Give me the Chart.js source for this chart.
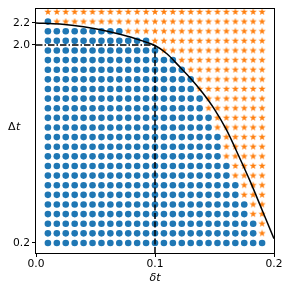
<!DOCTYPE html>
<html>
<head>
<meta charset="utf-8">
<script src="https://cdn.jsdelivr.net/npm/chart.js@4"></script>
<style>
  html, body { margin: 0; padding: 0; background: #fff; }
  #wrap { width: 291px; height: 291px; }
</style>
</head>
<body>
<div id="wrap"><canvas id="stability_chart" width="291" height="291"></canvas></div>
<script>
// grid of tested step sizes
const smallSteps = [0.01, 0.0175, 0.025, 0.0325, 0.04, 0.0475, 0.055, 0.0625, 0.07, 0.0775,
  0.085, 0.0925, 0.1, 0.1075, 0.115, 0.1225, 0.13, 0.1375, 0.145, 0.1525,
  0.16, 0.1675, 0.175, 0.1825, 0.19];
const largeSteps = [0.2, 0.2875, 0.375, 0.4625, 0.55, 0.6375, 0.725, 0.8125, 0.9, 0.9875,
  1.075, 1.1625, 1.25, 1.3375, 1.425, 1.5125, 1.6, 1.6875, 1.775, 1.8625,
  1.95, 2.0375, 2.125, 2.2125, 2.3];
// how many points of each row (from the left) came out stable
const stableCount = [25, 24, 24, 23, 23, 22, 22, 21, 21, 20, 20, 20, 19, 19, 18, 18, 17, 17, 16, 15, 13, 12, 9, 1, 0];

// stability boundary
const boundaryX = [0, 0.02, 0.04, 0.06, 0.08, 0.09, 0.1, 0.11, 0.12, 0.13, 0.14, 0.15, 0.16, 0.17, 0.18, 0.19, 0.2];
const boundaryY = [2.2, 2.19, 2.165, 2.125, 2.07, 2.035, 1.995, 1.92, 1.81, 1.695, 1.565, 1.415, 1.23, 1.0, 0.76, 0.5, 0.24];

const markX = 0.1;
const markY = 2.0;
const xTicks = [0, 0.1, 0.2];
const yTicks = [0.2, 2.0, 2.2];

const stable = [];
const unstable = [];
largeSteps.forEach((y, row) => {
  smallSteps.forEach((x, col) => {
    if (col < stableCount[row]) stable.push({ x, y });
    else unstable.push({ x, y });
  });
});

const makeStar = (size, color) => {
  const c = document.createElement('canvas');
  c.width = size;
  c.height = size;
  const g = c.getContext('2d');
  const r = size / 2 - 0.2;
  const ri = r * 0.4;
  g.beginPath();
  for (let i = 0; i < 10; i++) {
    const a = -Math.PI / 2 + i * Math.PI / 5;
    const rr = i % 2 ? ri : r;
    g.lineTo(size / 2 + rr * Math.cos(a), size / 2 + rr * Math.sin(a));
  }
  g.closePath();
  g.fillStyle = color;
  g.fill();
  return c;
};

const tickFont = { family: 'DejaVu Sans', size: 10.7 };

const frameAndLabels = {
  id: 'frameAndLabels',
  afterDraw(chart) {
    const { ctx, chartArea: a } = chart;
    ctx.save();
    ctx.strokeStyle = '#000';
    ctx.lineWidth = 1;
    ctx.strokeRect(Math.round(a.left) - 0.5, Math.round(a.top) - 0.5,
      Math.round(a.right - a.left) + 1, Math.round(a.bottom - a.top) + 1);

    ctx.fillStyle = '#000';
    ctx.textBaseline = 'alphabetic';
    ctx.textAlign = 'center';
    ctx.font = 'italic 11px "DejaVu Sans"';
    ctx.fillText('δt', chart.scales.x.getPixelForValue(markX), 281);

    ctx.textAlign = 'left';
    ctx.font = '11px "DejaVu Sans"';
    ctx.fillText('Δ', 8, 130);
    const w = ctx.measureText('Δ').width;
    ctx.font = 'italic 11px "DejaVu Sans"';
    ctx.fillText('t', 8 + w + 0.5, 130);
    ctx.restore();
  }
};

const chart = new Chart(document.getElementById('stability_chart').getContext('2d'), {
  type: 'scatter',
  data: {
    datasets: [
      {
        data: boundaryX.map((x, i) => ({ x, y: boundaryY[i] })),
        showLine: true,
        borderColor: '#000',
        borderWidth: 1.5,
        pointRadius: 0,
        cubicInterpolationMode: 'monotone',
        order: 0,
      },
      {
        data: [{ x: markX, y: 0.109 }, { x: markX, y: markY }],
        showLine: true,
        borderColor: '#000',
        borderWidth: 1.5,
        borderDash: [6, 2.5],
        pointRadius: 0,
        order: 0,
      },
      {
        data: [{ x: 0, y: markY }, { x: markX, y: markY }],
        showLine: true,
        borderColor: '#000',
        borderWidth: 1.5,
        borderDash: [6.5, 2, 1.5, 2],
        pointRadius: 0,
        order: 0,
      },
      {
        data: unstable,
        pointStyle: makeStar(8, '#ff7f0e'),
        pointRadius: 4,
        order: 1,
      },
      {
        data: stable,
        pointStyle: 'circle',
        backgroundColor: '#1f77b4',
        borderWidth: 0,
        pointRadius: 3.3,
        order: 1,
      },
    ],
  },
  options: {
    responsive: false,
    animation: false,
    layout: { padding: { top: 9, right: 17, left: 0, bottom: 0 } },
    plugins: { legend: { display: false }, tooltip: { enabled: false } },
    scales: {
      x: {
        type: 'linear',
        min: 0,
        max: 0.2,
        afterBuildTicks: (s) => { s.ticks = xTicks.map((value) => ({ value })); },
        afterFit: (s) => { s.height = 38; },
        ticks: { callback: (v) => v.toFixed(1), font: tickFont, color: '#000', padding: 1, maxRotation: 0, autoSkip: false },
        grid: { drawOnChartArea: false, drawTicks: true, tickLength: 4, color: '#000', lineWidth: 1 },
        border: { display: false },
      },
      y: {
        type: 'linear',
        min: 0.109,
        max: 2.327,
        afterBuildTicks: (s) => { s.ticks = yTicks.map((value) => ({ value })); },
        afterFit: (s) => { s.width = 36; },
        ticks: { callback: (v) => v.toFixed(1), font: tickFont, color: '#000', padding: 2, autoSkip: false },
        grid: { drawOnChartArea: false, drawTicks: true, tickLength: 4, color: '#000', lineWidth: 1 },
        border: { display: false },
      },
    },
  },
  plugins: [frameAndLabels],
});
</script>
</body>
</html>
